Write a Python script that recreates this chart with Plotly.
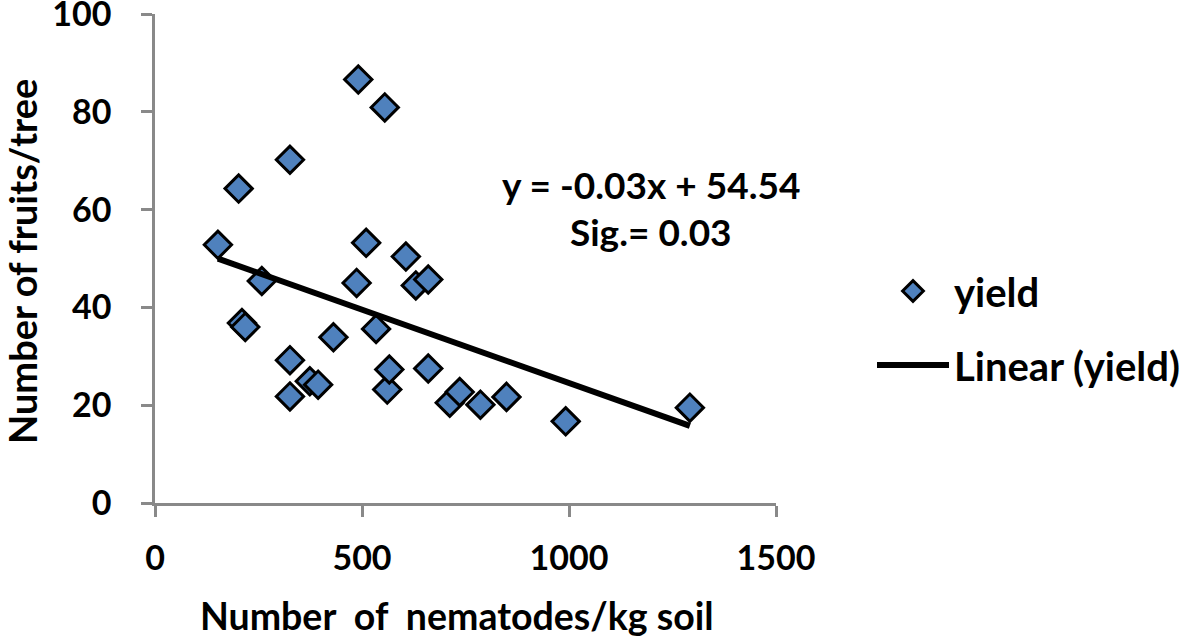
import plotly.graph_objects as go

nematodes = [152, 202, 210, 218, 258, 326, 326, 326, 374, 394, 431, 487, 491, 510,
             534, 555, 561, 566, 606, 630, 660, 660, 712, 736, 786, 849, 992, 1292]
fruits = [52.8, 64.3, 36.8, 36.0, 45.4, 70.2, 29.2, 21.8, 24.9, 24.2, 33.9, 45.0, 86.6, 53.2,
          35.6, 80.9, 23.2, 27.3, 50.4, 44.5, 45.7, 27.5, 20.5, 22.7, 20.1, 21.7, 16.7, 19.5]
slope = -0.03
intercept = 54.54
x_ticks = [0, 500, 1000, 1500]
y_ticks = [0, 20, 40, 60, 80, 100]

trend_x = [min(nematodes), max(nematodes)]
trend_y = [slope * v + intercept for v in trend_x]

FONT = "Lato"
W, H = 1181, 640
ML, MR, MT, MB = 155, 405, 14, 137
PW, PH = W - ML - MR, H - MT - MB


def font(size):
    return dict(family=FONT, size=size, color="black", weight="bold")


fig = go.Figure()
fig.add_trace(go.Scatter(
    x=nematodes, y=fruits, mode="markers", name="yield", legendgroup="a",
    marker=dict(symbol="diamond", size=21, color="#4F81BD",
                line=dict(color="black", width=3)),
))
fig.add_trace(go.Scatter(
    x=trend_x, y=trend_y, mode="lines", name="Linear (yield)", legendgroup="b",
    line=dict(color="black", width=6),
))

axis_common = dict(showgrid=False, zeroline=False, showline=True, linecolor="#898989",
                   linewidth=2.5, ticks="outside", tickcolor="#898989", tickwidth=2.5,
                   ticklen=11, automargin=False, tickfont=font(34),
                   ticklabeloverflow="allow")
fig.update_xaxes(range=[0, 1500], tickvals=x_ticks, ticklabelstandoff=12, **axis_common)
fig.update_yaxes(range=[0, 100], tickvals=y_ticks, ticklabelstandoff=23, **axis_common)

fig.add_annotation(text="y = -0.03x + 54.54", x=1198, y=65.1, xref="x", yref="y",
                   showarrow=False, font=font(37))
fig.add_annotation(text="Sig.= 0.03", x=1198, y=55.5, xref="x", yref="y",
                   showarrow=False, font=font(37))
fig.add_annotation(text="Number\u00a0 of\u00a0 nematodes/kg soil",
                   x=(457 - ML) / PW, y=-(615 - (MT + PH)) / PH, xref="paper", yref="paper",
                   showarrow=False, xanchor="center", yanchor="middle", font=font(37.5))
fig.add_annotation(text="Number of fruits/tree",
                   x=(22 - ML) / PW, y=1 - (262 - MT) / PH, xref="paper", yref="paper",
                   showarrow=False, textangle=-90, xanchor="center", yanchor="middle",
                   font=font(38))

fig.update_layout(
    width=W, height=H, autosize=False,
    margin=dict(l=ML, r=MR, t=MT, b=MB),
    paper_bgcolor="white", plot_bgcolor="white",
    showlegend=True,
    legend=dict(x=872 / W, y=1 - 328 / H, xref="container", yref="container",
                xanchor="left", yanchor="middle",
                font=font(40), tracegroupgap=19, itemwidth=72, traceorder="grouped",
                bgcolor="rgba(0,0,0,0)"),
)
fig.write_html("out.html",
               config={"responsive": False, "displayModeBar": False},
               post_script="document.body.style.margin='0';document.body.style.overflow='hidden';")
